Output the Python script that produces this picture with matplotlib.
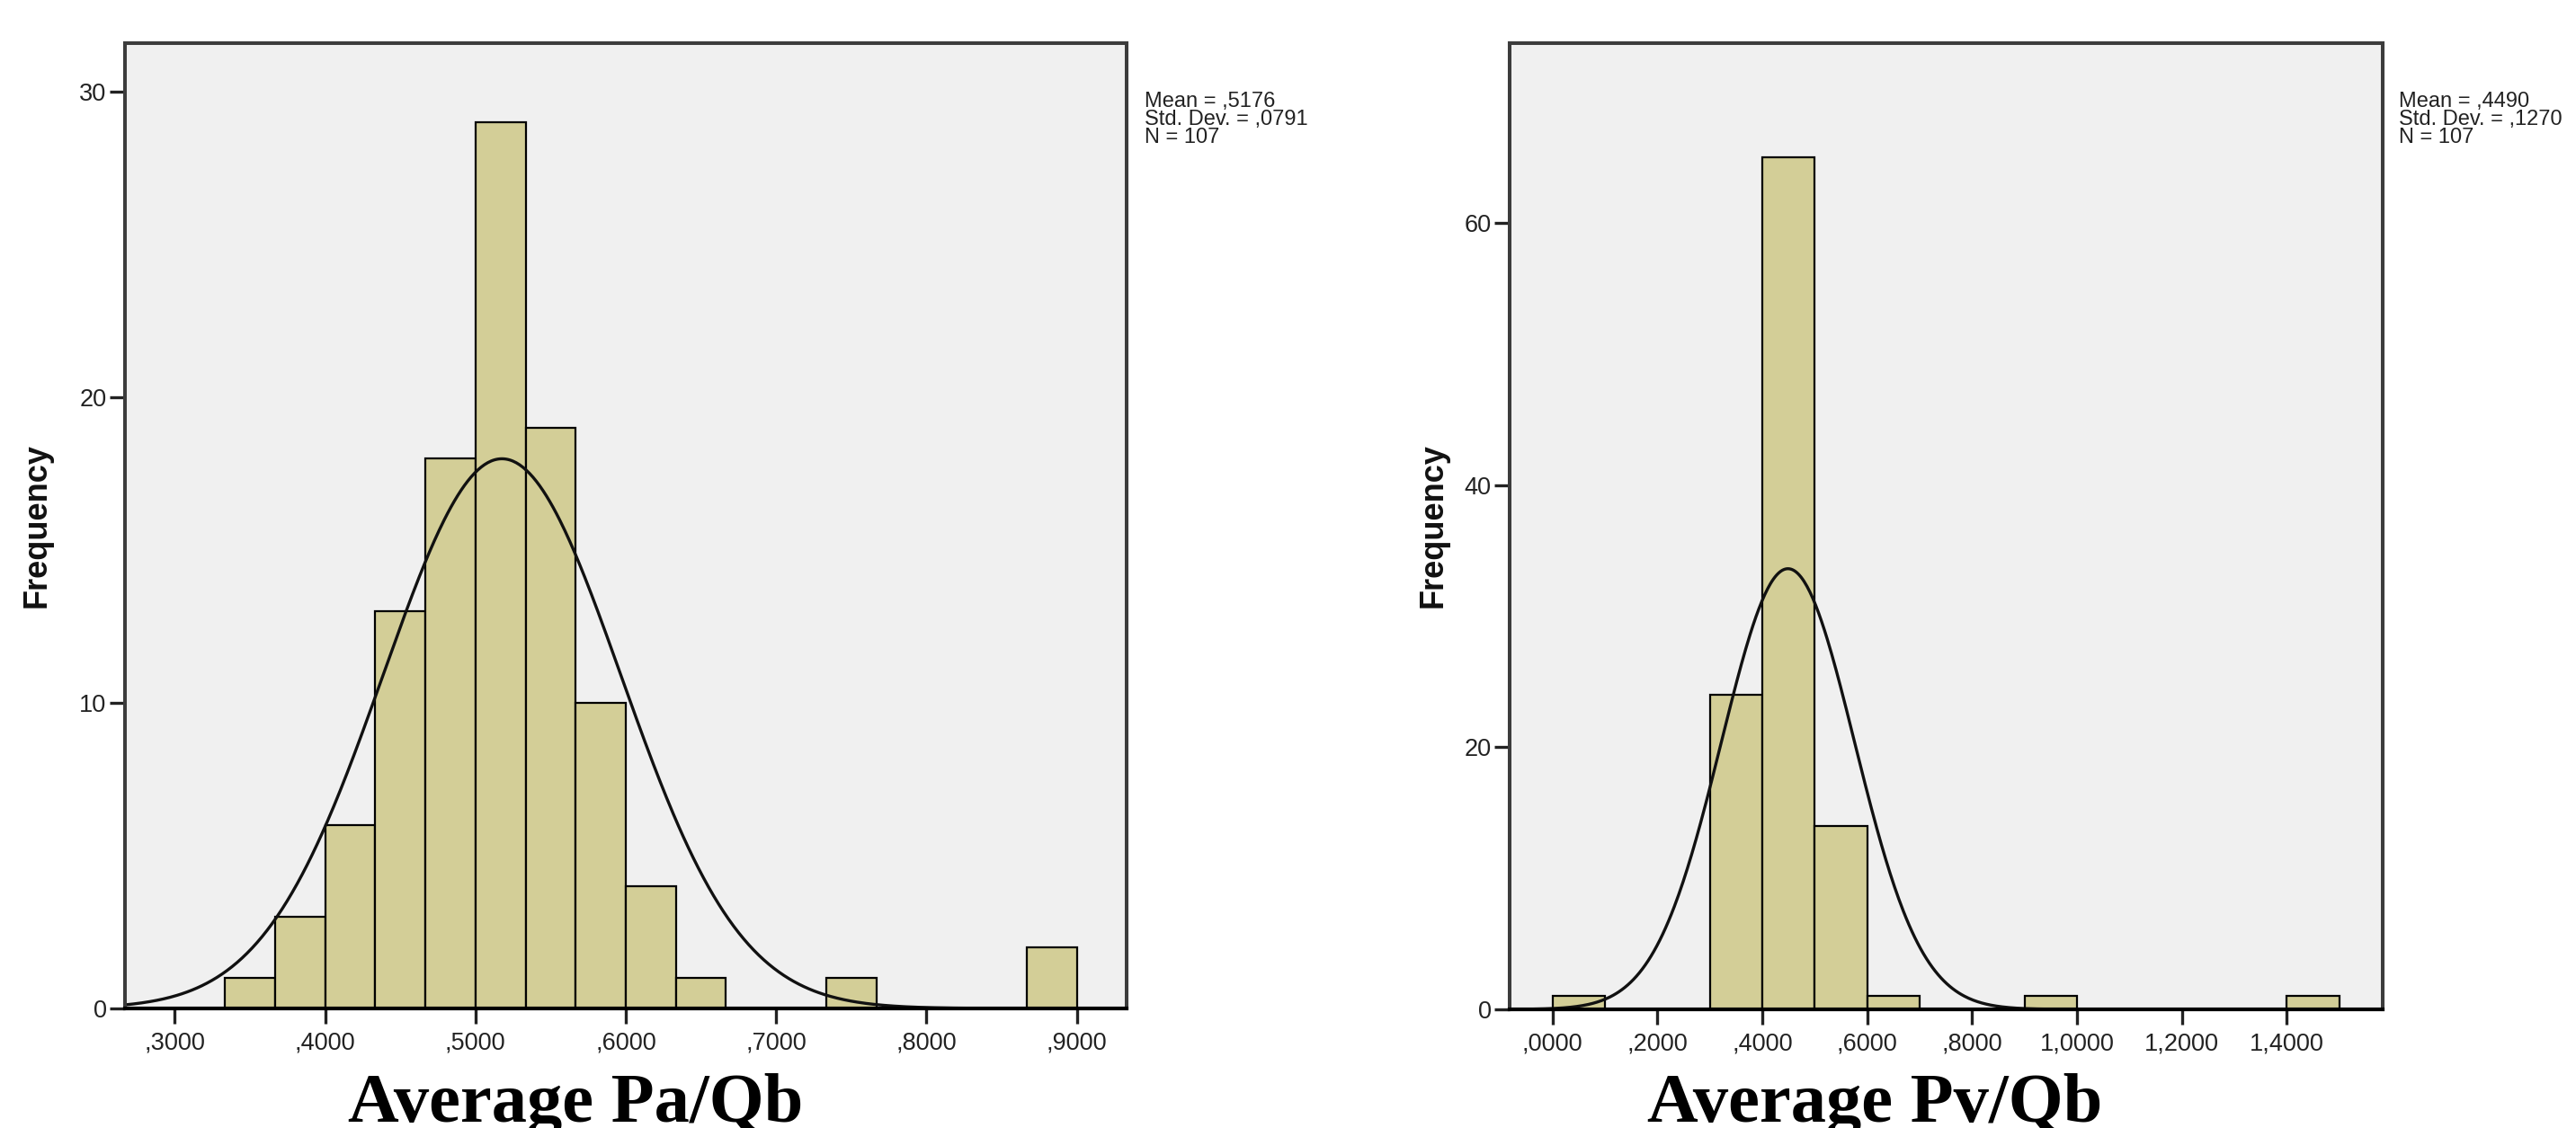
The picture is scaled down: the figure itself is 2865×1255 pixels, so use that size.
import numpy as np
import matplotlib
matplotlib.use("Agg")
import matplotlib.pyplot as plt

# ---------------- data ----------------
# Left histogram: Average Pa/Qb
pa_bin_edges = [1/3 + k/30 for k in range(18)]
pa_counts = [1, 3, 6, 13, 18, 29, 19, 10, 4, 1, 0, 0, 1, 0, 0, 0, 2]
pa_mean, pa_sd, pa_n = 0.5176, 0.0791, 107
pa_xticks = [0.3, 0.4, 0.5, 0.6, 0.7, 0.8, 0.9]
pa_xticklabels = [",3000", ",4000", ",5000", ",6000", ",7000", ",8000", ",9000"]
pa_yticks = [0, 10, 20, 30]

# Right histogram: Average Pv/Qb
pv_bin_edges = [k/10 for k in range(16)]
pv_counts = [1, 0, 0, 24, 65, 14, 1, 0, 0, 1, 0, 0, 0, 0, 1]
pv_mean, pv_sd, pv_n = 0.4490, 0.1270, 107
pv_xticks = [0.0, 0.2, 0.4, 0.6, 0.8, 1.0, 1.2, 1.4]
pv_xticklabels = [",0000", ",2000", ",4000", ",6000", ",8000", "1,0000", "1,2000", "1,4000"]
pv_yticks = [0, 20, 40, 60]

stats_pa = ["Mean = ,5176", "Std. Dev. = ,0791", "N = 107"]
stats_pv = ["Mean = ,4490", "Std. Dev. = ,1270", "N = 107"]

# ---------------- style ----------------
W, H = 2865, 1255
DPI = 100
BAR = "#D3CE97"
BG = "#F0F0F0"
SANS = ["Liberation Sans", "DejaVu Sans"]
SERIF = ["Liberation Serif", "DejaVu Serif"]

fig = plt.figure(figsize=(W / DPI, H / DPI), dpi=DPI)
fig.patch.set_facecolor("white")


def px_rect(x0, y0, x1, y1):
    return [x0 / W, 1 - y1 / H, (x1 - x0) / W, (y1 - y0) / H]


def draw(ax, edges, counts, mean, sd, n, xlim, ylim, xticks, xticklabels, yticks):
    ax.set_facecolor(BG)
    lefts = np.array(edges[:-1])
    ax.hist(lefts + 1e-9, bins=edges, weights=counts, color=BAR,
            edgecolor="black", linewidth=1.6, zorder=2)
    width = edges[1] - edges[0]
    xs = np.linspace(xlim[0], xlim[1], 600)
    ys = n * width / (sd * np.sqrt(2 * np.pi)) * np.exp(-0.5 * ((xs - mean) / sd) ** 2)
    ax.plot(xs, ys, color="#111111", linewidth=2.4, zorder=3)
    ax.set_xlim(*xlim)
    ax.set_ylim(*ylim)
    ax.set_xticks(xticks)
    ax.set_xticklabels(xticklabels)
    ax.set_yticks(yticks)
    ax.set_yticklabels([str(v) for v in yticks])
    for s in ("left", "top", "right"):
        ax.spines[s].set_color("#3c3c3c")
        ax.spines[s].set_linewidth(2.9)
    ax.spines["bottom"].set_color("black")
    ax.spines["bottom"].set_linewidth(3.0)
    ax.tick_params(axis="both", direction="out", length=12.2, width=2.4,
                   color="#222222", labelsize=19.5, labelcolor="#222222")
    ax.tick_params(axis="y", pad=2.5)
    ax.tick_params(axis="x", pad=6.0)
    for lab in ax.get_xticklabels() + ax.get_yticklabels():
        lab.set_family(SANS)
    for sp in ax.spines.values():
        sp.set_zorder(5)


ax1 = fig.add_axes(px_rect(139, 48, 1253, 1122))
draw(ax1, pa_bin_edges, pa_counts, pa_mean, pa_sd, pa_n,
     (0.2668, 0.9332), (0, 31.59), pa_xticks, pa_xticklabels, pa_yticks)

ax2 = fig.add_axes(px_rect(1679, 48, 2650, 1123))
draw(ax2, pv_bin_edges, pv_counts, pv_mean, pv_sd, pv_n,
     (-0.0817, 1.583), (0, 73.7), pv_xticks, pv_xticklabels, pv_yticks)

# y-axis titles
fig.text(41 / W, 1 - 585 / H, "Frequency", rotation=90, ha="center", va="center",
         fontsize=26, fontweight="bold", family=SANS, color="#111111")
fig.text(1594 / W, 1 - 585 / H, "Frequency", rotation=90, ha="center", va="center",
         fontsize=26, fontweight="bold", family=SANS, color="#111111")

# stats boxes
fig.text(1273 / W, 1 - 102 / H, "\n".join(stats_pa), ha="left", va="top",
         fontsize=17, family=SANS, color="#222222", linespacing=0.88)
fig.text(2668 / W, 1 - 102 / H, "\n".join(stats_pv), ha="left", va="top",
         fontsize=17, family=SANS, color="#222222", linespacing=0.88)

# x-axis titles (document text, bold serif)
fig.text(640 / W, 1 - 1248 / H, "Average Pa/Qb", ha="center", va="baseline",
         fontsize=56.5, fontweight="bold", family=SERIF, color="black")
fig.text(2085 / W, 1 - 1248 / H, "Average Pv/Qb", ha="center", va="baseline",
         fontsize=56.5, fontweight="bold", family=SERIF, color="black")

fig.savefig("out.png", dpi=DPI, facecolor="white")
